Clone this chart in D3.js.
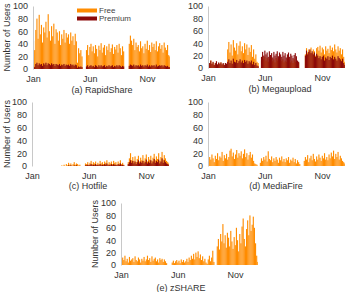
<!DOCTYPE html>
<html>
<head>
<meta charset="utf-8">
<script src="https://cdn.jsdelivr.net/npm/d3@7"></script>
<style>
  body { margin: 0; background: #fff; }
  svg { display: block; font-family: "Liberation Sans", Arial, sans-serif; }
</style>
</head>
<body>
<div id="chart"></div>
<script>
// one value per 3-day bin, starting Jan 1 (122 bins)
var rapidFree = [
  45, 30, 62, 80, 48, 86, 55, 70, 42, 66,
  58, 75, 50, 87, 60, 45, 68, 52, 72, 40,
  63, 58, 45, 60, 38, 55, 48, 62, 42, 57,
  50, 55, 40, 58, 45, 52, 38, 56, 44, 10,
  33, 25, 30, 20, 0, 0, 0, 30, 38, 22,
  35, 40, 28, 36, 25, 38, 32, 20, 37, 30,
  41, 26, 34, 38, 22, 36, 30, 40, 27, 33,
  39, 24, 35, 31, 38, 26, 40, 33, 22, 36,
  28, 0, 0, 0, 0, 40, 53, 45, 38, 48,
  30, 42, 35, 38, 28, 44, 33, 36, 25, 40,
  32, 45, 30, 38, 27, 42, 35, 40, 30, 44,
  28, 36, 41, 32, 38, 26, 42, 34, 30, 38,
  22, 20];
var rapidPrem = [
  5, 3, 8, 10, 6, 9, 7, 8, 5, 9,
  7, 10, 6, 9, 8, 6, 9, 7, 8, 5,
  8, 7, 6, 8, 5, 7, 6, 8, 5, 7,
  6, 7, 5, 8, 6, 7, 5, 7, 6, 2,
  4, 3, 4, 3, 0, 0, 0, 4, 6, 3,
  5, 6, 4, 5, 3, 6, 5, 3, 6, 4,
  6, 4, 5, 6, 3, 5, 4, 6, 4, 5,
  6, 3, 5, 4, 6, 4, 6, 5, 3, 5,
  4, 0, 0, 0, 0, 5, 7, 6, 5, 7,
  4, 6, 5, 6, 4, 7, 5, 6, 4, 6,
  5, 7, 4, 6, 4, 6, 5, 6, 4, 7,
  4, 5, 6, 5, 6, 4, 6, 5, 4, 5,
  3, 3];

var megaFree = [
  5, 8, 12, 6, 9, 4, 7, 10, 5, 8,
  6, 9, 5, 7, 4, 8, 6, 30, 42, 25,
  38, 20, 45, 33, 28, 40, 22, 36, 43, 27,
  35, 24, 40, 30, 38, 21, 33, 26, 37, 18,
  30, 15, 22, 10, 8, 0, 0, 12, 20, 14,
  18, 12, 16, 10, 15, 12, 17, 11, 14, 9,
  16, 12, 15, 10, 13, 11, 14, 9, 12, 10,
  15, 11, 13, 9, 12, 8, 14, 10, 11, 6,
  8, 0, 0, 0, 0, 0, 22, 32, 25, 30,
  28, 33, 24, 30, 27, 20, 32, 34, 28, 36,
  25, 33, 30, 22, 35, 28, 31, 24, 36, 29,
  33, 27, 38, 30, 25, 35, 28, 32, 22, 30,
  18, 10];
var megaPrem = [
  6, 8, 12, 7, 10, 5, 8, 11, 6, 9,
  7, 9, 6, 8, 5, 8, 7, 10, 14, 8,
  12, 7, 15, 10, 9, 13, 8, 11, 14, 9,
  12, 8, 13, 10, 12, 7, 11, 9, 12, 6,
  10, 5, 8, 4, 3, 0, 0, 18, 26, 20,
  28, 22, 25, 18, 27, 21, 24, 17, 26, 20,
  23, 27, 19, 25, 22, 18, 26, 20, 24, 17,
  22, 25, 18, 23, 20, 16, 21, 24, 19, 12,
  10, 0, 0, 0, 0, 0, 20, 28, 22, 26,
  30, 24, 27, 22, 25, 18, 23, 20, 16, 19,
  14, 18, 20, 12, 17, 15, 19, 13, 18, 16,
  20, 14, 18, 15, 12, 19, 16, 14, 11, 15,
  8, 5];

var hotFree = [
  0, 0, 0, 0, 0, 0, 0, 0, 0, 0,
  0, 0, 0, 0, 0, 0, 0, 0, 0, 0,
  0, 0, 0, 0, 0, 0, 1, 0, 2, 0,
  3, 1, 5, 2, 4, 1, 3, 6, 2, 4,
  3, 1, 2, 0, 0, 0, 0, 4, 3, 6,
  2, 5, 8, 3, 6, 4, 7, 2, 5, 3,
  8, 4, 6, 3, 7, 5, 9, 3, 6, 4,
  7, 3, 8, 5, 6, 2, 7, 4, 9, 3,
  5, 2, 0, 0, 0, 6, 12, 20, 9, 14,
  8, 15, 6, 11, 16, 7, 13, 9, 17, 8,
  12, 18, 7, 14, 10, 16, 8, 13, 19, 9,
  15, 11, 20, 8, 14, 22, 10, 17, 12, 8,
  6, 4];
var hotPrem = [
  0, 0, 0, 0, 0, 0, 0, 0, 0, 0,
  0, 0, 0, 0, 0, 0, 0, 0, 0, 0,
  0, 0, 0, 0, 0, 0, 0, 0, 0, 0,
  0, 0, 1, 0, 1, 0, 0, 1, 0, 1,
  0, 0, 0, 0, 0, 0, 0, 1, 1, 2,
  1, 2, 3, 1, 2, 1, 3, 1, 2, 1,
  3, 1, 2, 1, 3, 2, 4, 1, 2, 1,
  3, 1, 3, 2, 2, 1, 3, 2, 4, 1,
  2, 1, 0, 0, 0, 3, 6, 9, 5, 8,
  4, 7, 3, 6, 9, 4, 7, 5, 8, 4,
  6, 10, 4, 7, 5, 9, 4, 7, 11, 5,
  8, 6, 10, 4, 7, 12, 5, 9, 6, 4,
  3, 2];

var fireFree = [
  8, 14, 10, 18, 12, 6, 16, 11, 20, 9,
  15, 13, 22, 8, 17, 12, 19, 10, 14, 24,
  27, 15, 21, 11, 18, 25, 13, 20, 16, 23,
  12, 19, 26, 14, 20, 10, 17, 22, 13, 18,
  8, 4, 3, 2, 0, 0, 5, 12, 8, 14,
  10, 16, 7, 23, 11, 9, 15, 6, 12, 8,
  14, 10, 5, 13, 9, 15, 7, 11, 6, 12,
  9, 14, 5, 10, 8, 13, 6, 11, 4, 9,
  6, 3, 0, 0, 0, 8, 14, 10, 17, 6,
  12, 16, 9, 19, 11, 7, 15, 10, 18, 13,
  8, 16, 12, 20, 10, 14, 9, 18, 12, 21,
  15, 24, 11, 19, 14, 22, 10, 16, 12, 8,
  6, 4];
var firePrem = [];

var zshareFree = [
  5, 12, 8, 15, 6, 10, 4, 13, 7, 9,
  11, 5, 14, 8, 6, 12, 9, 4, 10, 7,
  13, 6, 9, 15, 8, 11, 5, 14, 7, 10,
  12, 6, 9, 4, 11, 8, 10, 5, 9, 6,
  3, 0, 0, 0, 0, 4, 7, 3, 6, 8,
  4, 7, 3, 9, 5, 8, 4, 6, 10, 5,
  12, 8, 15, 10, 18, 9, 20, 13, 22, 11,
  17, 8, 14, 6, 10, 4, 2, 9, 15, 6,
  12, 23, 5, 0, 0, 30, 42, 25, 50, 38,
  66, 35, 48, 28, 52, 44, 30, 55, 38, 26,
  45, 32, 60, 40, 22, 50, 35, 62, 75, 42,
  30, 58, 72, 48, 80, 55, 65, 78, 60, 35,
  15, 5];
var zsharePrem = [];

var yTicks = [0, 20, 40, 60, 80, 100];
var monthTicks = ["Jan", "Jun", "Nov"];
var monthIdx = [0, 5, 10];
var legendLabels = ["Free", "Premium"];

var freeColor = "#ff8c00",
    premColor = "#8b0a0a";

var W = 351, H = 292, plotW = 137;
var start = new Date(2009, 0, 1), end = new Date(2010, 0, 1);

var svg = d3.select("#chart")
  .append("svg")
    .attr("width", W)
    .attr("height", H);

var panels = [
  {free: rapidFree, prem: rapidPrem, left: 33, top: 6, bottom: 69, caption: "(a) RapidShare", cx: 102, cy: 89.5, ylab: true, yx: 7},
  {free: megaFree, prem: megaPrem, left: 208, top: 6, bottom: 68, caption: "(b) Megaupload", cx: 280, cy: 89, ylab: false},
  {free: hotFree, prem: hotPrem, left: 32, top: 102, bottom: 166, caption: "(c) Hotfile", cx: 88, cy: 185.5, ylab: true, yx: 7},
  {free: fireFree, prem: firePrem, left: 208, top: 102, bottom: 166, caption: "(d) MediaFire", cx: 276, cy: 185.5, ylab: false},
  {free: zshareFree, prem: zsharePrem, left: 121, top: 203, bottom: 265, caption: "(e) zSHARE", cx: 181, cy: 287.5, ylab: true, yx: 95}
];

panels.forEach(function(p) {
  var x = d3.scaleTime()
    .domain([start, end])
    .range([p.left, p.left + plotW]);
  var y = d3.scaleLinear()
    .domain([0, 100])
    .range([p.bottom, p.top]);

  function bins(vals) {
    return vals.map(function(v, i) {
      var d0 = d3.timeDay.offset(start, i * 3);
      var d1 = d3.timeDay.offset(start, i * 3 + 3);
      if (d1 > end) d1 = end;
      return {d0: d0, d1: d1, v: v};
    });
  }

  var g = svg.append("g");

  // free first, premium drawn in front
  [[p.free, freeColor], [p.prem, premColor]].forEach(function(s) {
    g.append("g").selectAll("rect")
      .data(bins(s[0]).filter(function(d) { return d.v > 0; }))
      .enter()
      .append("rect")
        .attr("x", function(d) { return x(d.d0); })
        .attr("width", function(d) { return x(d.d1) - x(d.d0); })
        .attr("y", function(d) { return y(d.v); })
        .attr("height", function(d) { return y(0) - y(d.v); })
        .attr("fill", s[1]);
  });

  // y axis
  var ya = g.append("g")
    .attr("transform", "translate(" + p.left + ",0)")
    .call(d3.axisLeft(y).tickValues(yTicks).tickSize(0).tickPadding(5));
  ya.select(".domain").attr("stroke", "#c8c8c8");
  ya.selectAll("text").attr("fill", "#333").style("font-size", "9px");

  // x axis labels
  var xa = g.append("g")
    .attr("transform", "translate(0," + p.bottom + ")")
    .call(d3.axisBottom(x)
      .tickValues(monthIdx.map(function(m) { return new Date(2009, m, 1); }))
      .tickFormat(function(d, i) { return monthTicks[i]; })
      .tickSize(0).tickPadding(7));
  xa.select(".domain").remove();
  xa.selectAll("text").attr("fill", "#333").style("font-size", "9px");

  if (p.ylab) {
    g.append("text")
      .attr("transform", "rotate(-90)")
      .attr("x", -(p.top + p.bottom) / 2)
      .attr("y", p.yx)
      .attr("dy", "0.35em")
      .style("text-anchor", "middle")
      .style("font-size", "9px")
      .attr("fill", "#333")
      .text("Number of Users");
  }

  g.append("text")
    .attr("x", p.cx)
    .attr("y", p.cy)
    .attr("dy", "0.35em")
    .style("text-anchor", "middle")
    .style("font-size", "9px")
    .attr("fill", "#333")
    .text(p.caption);
});

// legend
var leg = svg.append("g");
[freeColor, premColor].forEach(function(c, i) {
  leg.append("rect")
    .attr("x", 77)
    .attr("y", 8.5 + i * 8)
    .attr("width", 20)
    .attr("height", 4)
    .attr("fill", c);
  leg.append("text")
    .attr("x", 99)
    .attr("y", 10.5 + i * 8)
    .attr("dy", "0.35em")
    .style("font-size", "8px")
    .attr("fill", "#444")
    .text(legendLabels[i]);
});
</script>
</body>
</html>
